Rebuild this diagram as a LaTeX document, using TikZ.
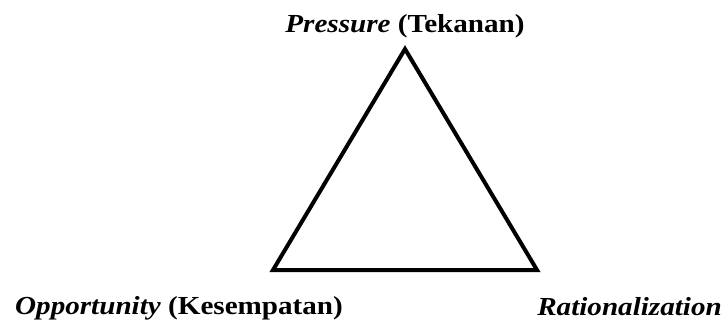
\documentclass[tikz,border=0pt]{standalone}
\usepackage{fontspec}
\setmainfont[FakeStretch=1.12]{Liberation Serif}
\begin{document}
\begin{tikzpicture}[x=1pt,y=-1pt,font=\fontsize{26}{30}\selectfont\bfseries,
  lbl/.style={inner sep=0pt}]
  \useasboundingbox (0,0) rectangle (728,324);
  \coordinate (p) at (405,49);
  \coordinate (o) at (273,270);
  \coordinate (r) at (537,270);
  \draw[line width=4pt,miter limit=20] (p) -- (o) -- (r) -- cycle;
  \node[lbl,anchor=base] (pl) at (405,32) {\textit{Pressure} (Tekanan)};
  \node[lbl,anchor=base west] (ol) at (15,314) {\textit{Opportunity} (Kesempatan)};
  \node[lbl,anchor=base east] (rl) at (722,315) {\textit{Rationalization}};
\end{tikzpicture}
\end{document}
